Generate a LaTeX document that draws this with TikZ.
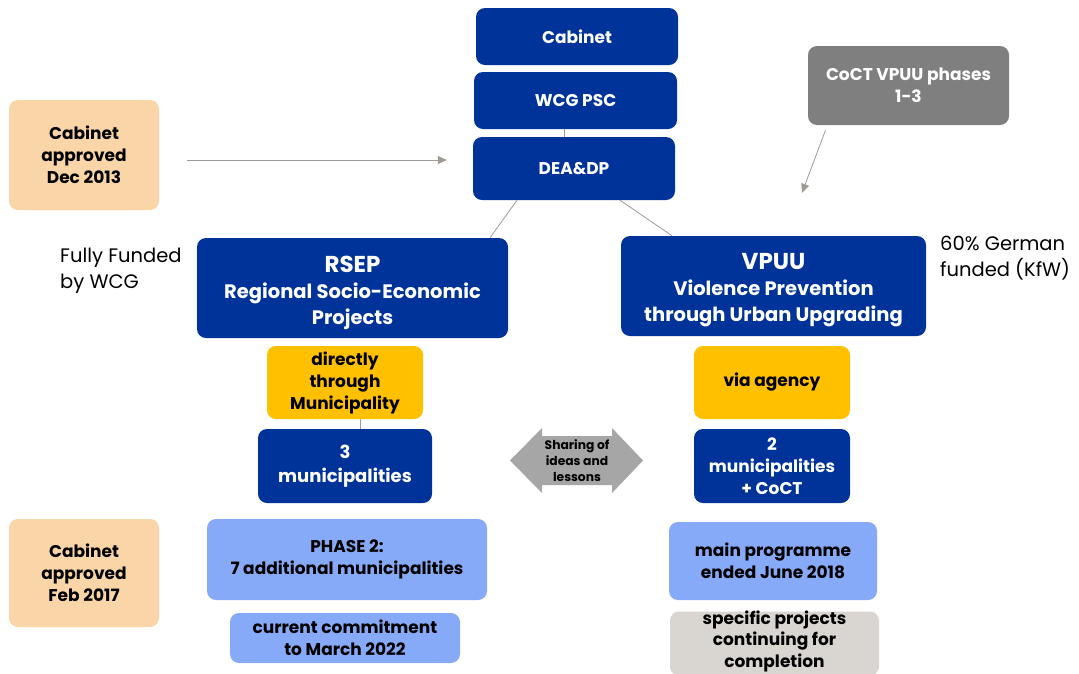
\documentclass[tikz,border=0pt]{standalone}
\usepackage{fontspec}
\setmainfont{Poppins}
\usetikzlibrary{calc,arrows.meta}
\definecolor{dblue}{RGB}{0,51,153}
\definecolor{peach}{RGB}{250,213,168}
\definecolor{ylw}{RGB}{255,192,0}
\definecolor{gbox}{RGB}{127,127,127}
\definecolor{lblue}{RGB}{134,170,248}
\definecolor{lgray}{RGB}{217,214,209}
\definecolor{lnk}{RGB}{160,154,150}
\definecolor{dbl}{RGB}{166,166,166}
\tikzset{
  bx/.style={rounded corners=9pt, inner sep=0pt, align=center, font=\bfseries\fontsize{17}{22}\selectfont},
  dbx/.style={bx, fill=dblue, text=white},
  pbx/.style={bx, fill=peach, text=black},
  ybx/.style={bx, fill=ylw, text=black},
  gbx/.style={bx, fill=gbox, text=white},
  lbx/.style={bx, fill=lblue, text=black},
  lgbx/.style={bx, fill=lgray, text=black},
  txt/.style={align=center, inner sep=0pt},
  lnkline/.style={draw=lnk, line width=0.8pt},
  lnkarrow/.style={lnkline, -{Triangle[length=9pt,width=8pt]}},
  note/.style={align=left, inner sep=0pt, font=\fontsize{19.5}{26}\selectfont}
}
\begin{document}
\begin{tikzpicture}[x=1pt,y=-1pt]
\clip (0,0) rectangle (1079,673);
\fill[white] (0,0) rectangle (1079,673);
% top column
\node[dbx, minimum width=202pt, minimum height=57pt] (cab) at (577,36.5) {Cabinet};
\node[dbx, minimum width=203pt, minimum height=57pt] (psc) at (575.5,100.5) {WCG PSC};
\node[dbx, minimum width=202pt, minimum height=63pt] (dea) at (574,168.5) {DEA\&DP};
% side boxes
\node[pbx, minimum width=150pt, minimum height=110pt] (cad13) at (84,155) {Cabinet\\approved\\Dec 2013};
\node[gbx, minimum width=201pt, minimum height=79pt] (coct) at (908.5,85.5) {CoCT VPUU phases\\1-3};
% main programmes
\node[dbx, minimum width=311pt, minimum height=100pt] (rsep) at (352.5,288) {};
\node[txt, text=white, font=\bfseries\fontsize{19.5}{26}\selectfont] (rsept) at (352.5,293)
  {{\fontsize{23}{26}\selectfont RSEP}\\Regional Socio-Economic\\Projects};
\node[dbx, minimum width=305pt, minimum height=100pt] (vpuu) at (773.5,286) {};
\node[txt, text=white, font=\bfseries\fontsize{19.5}{26}\selectfont] (vpuut) at (773.5,290)
  {{\fontsize{23}{26}\selectfont VPUU}\\Violence Prevention\\through Urban Upgrading};
\node[note, anchor=west] (ffund) at (60,271) {Fully Funded\\by WCG};
\node[note, anchor=west] (kfw) at (940,258.5) {60\% German\\funded (KfW)};
% delivery
\node[ybx, minimum width=156pt, minimum height=73pt] (direct) at (345,382.5) {directly\\through\\Municipality};
\node[dbx, minimum width=174pt, minimum height=74pt, font=\bfseries\fontsize{18}{24}\selectfont] (mun3) at (345,466) {3\\municipalities};
\node[ybx, minimum width=156pt, minimum height=73pt] (via) at (772,382.5) {via agency};
\node[dbx, minimum width=156pt, minimum height=74pt] (mun2) at (772,466) {2\\municipalities\\+ CoCT};
% phases
\node[pbx, minimum width=150pt, minimum height=108pt] (cab17) at (84,573) {Cabinet\\approved\\Feb 2017};
\node[lbx, minimum width=280pt, minimum height=81pt] (phase2) at (347,559.5) {PHASE 2:\\7 additional municipalities};
\node[lbx, minimum width=230pt, minimum height=50pt] (commit) at (345,638) {current commitment\\to March 2022};
\node[lbx, minimum width=208pt, minimum height=78pt] (mainp) at (773,561) {main programme\\ended June 2018};
\node[lgbx, minimum width=209pt, minimum height=64pt] (spec) at (774.5,643.5) {};
\node[txt, font=\bfseries\fontsize{17}{21.5}\selectfont] (spect) at (774.5,641) {specific projects\\continuing for\\completion};
% sharing double arrow
\fill[dbl] (510,460.5) -- (542,428) -- (542,436) -- (612,436) -- (612,428) -- (643,460.5)
  -- (612,493) -- (612,485) -- (542,485) -- (542,493) -- cycle;
\node[txt, font=\bfseries\fontsize{12.3}{16}\selectfont] (share) at (577,461) {Sharing of\\ideas and\\lessons};
% connectors
\draw[lnkline] ($(psc.south)+(-11.5,0)$) -- ($(dea.north)+(-10,0)$);
\draw[lnkline] ($(dea.south)+(-57,0)$) -- ($(rsep.north)+(137.5,0)$);
\draw[lnkline] ($(dea.south)+(46,0)$) -- ($(vpuu.north)+(-101.5,0)$);
\draw[lnkline] ($(direct.south)+(15,0)$) -- ($(mun3.north)+(15,0)$);
\draw[lnkarrow] ($(cad13.east)+(28,5)$) -- ($(dea.west)+(-26,-8.5)$);
\draw[lnkarrow] ($(coct.south)+(-83,5)$) -- ($(vpuu.north)+(28.5,-43)$);
\end{tikzpicture}
\end{document}
